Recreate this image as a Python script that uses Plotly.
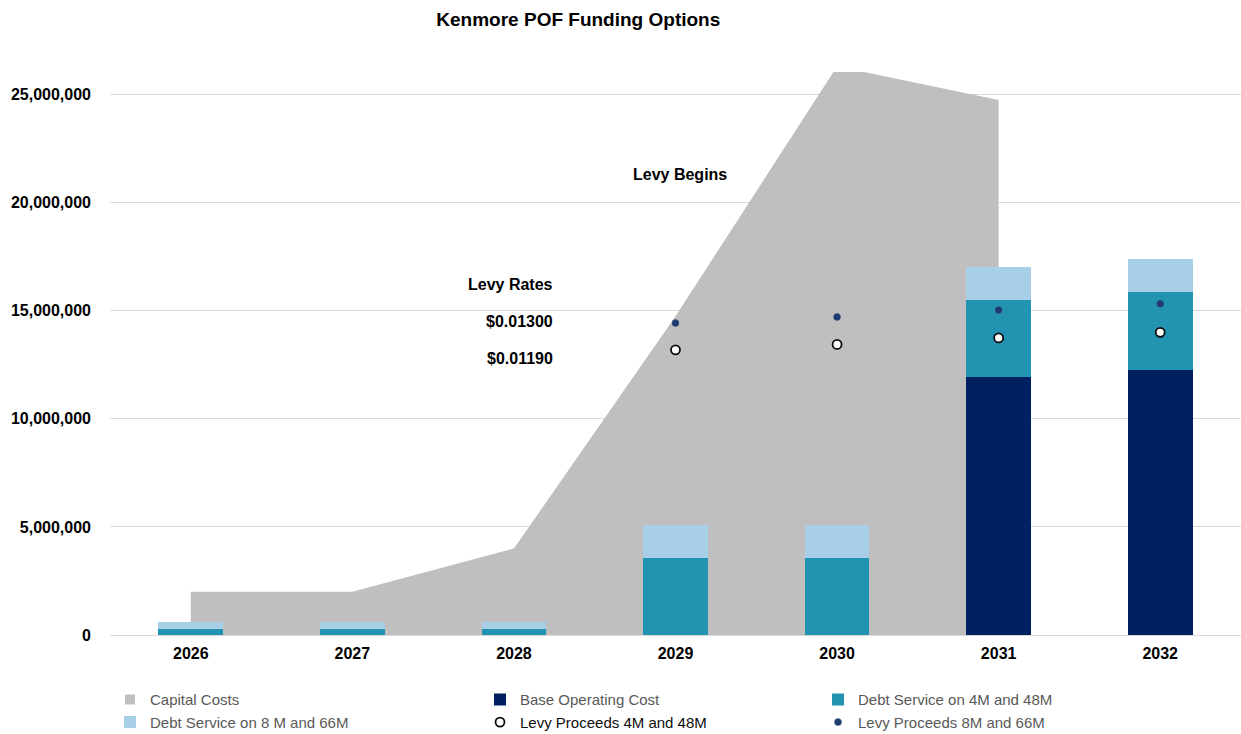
import plotly.graph_objects as go

# ---- data ----
years = ["2026", "2027", "2028", "2029", "2030", "2031", "2032"]
capital_years = ["2026", "2027", "2028", "2029", "2030", "2031"]
capital_costs = [2.0e6, 2.0e6, 4.0e6, 14.74e6, 26.3e6, 24.74e6]
base_operating = [None, None, None, None, None, 11.92e6, 12.25e6]
debt_4m_48m = [0.30e6, 0.30e6, 0.30e6, 3.58e6, 3.58e6, 3.56e6, 3.60e6]
debt_8m_66m = [0.30e6, 0.30e6, 0.30e6, 1.53e6, 1.53e6, 1.56e6, 1.54e6]
levy_years = ["2029", "2030", "2031", "2032"]
levy_4m_48m = [13.19e6, 13.44e6, 13.74e6, 14.00e6]
levy_8m_66m = [14.43e6, 14.71e6, 15.03e6, 15.32e6]
y_ticks = [0, 5e6, 10e6, 15e6, 20e6, 25e6]

# ---- style ----
C_CAP = "#BFBFBF"
C_BASE = "#002060"
C_DEBT4 = "#2293B0"
C_DEBT8 = "#A8CFE8"
C_LEVY8 = "#1F3A6E"
FONT = "Liberation Sans, Arial, sans-serif"
Y_MAX = 26.04e6
PW = 1131.0  # plot width in px

fig = go.Figure()

# capital cost area (base axes, drawn below bars)
fig.add_trace(go.Scatter(
    x=capital_years + [capital_years[-1]],
    y=capital_costs + [0],
    mode="none", fill="tozeroy", fillcolor=C_CAP,
    showlegend=False, hoverinfo="skip",
    xaxis="x", yaxis="y",
))
# legend entry for capital costs
fig.add_trace(go.Scatter(
    x=[None], y=[None], mode="markers", name="Capital Costs",
    marker=dict(symbol="square", size=10, color=C_CAP),
    legend="legend", xaxis="x", yaxis="y",
))

fig.add_trace(go.Bar(
    x=years, y=base_operating, name="Base Operating Cost",
    marker=dict(color=C_BASE, line=dict(width=0)), width=0.4,
    legend="legend2", xaxis="x2", yaxis="y2",
))
fig.add_trace(go.Bar(
    x=years, y=debt_4m_48m, name="Debt Service on 4M and 48M",
    marker=dict(color=C_DEBT4, line=dict(width=0)), width=0.4,
    legend="legend3", xaxis="x2", yaxis="y2",
))
fig.add_trace(go.Bar(
    x=years, y=debt_8m_66m, name="Debt Service on 8 M and 66M",
    marker=dict(color=C_DEBT8, line=dict(width=0)), width=0.4,
    legend="legend", xaxis="x2", yaxis="y2",
))
fig.add_trace(go.Scatter(
    x=levy_years, y=levy_4m_48m, mode="markers",
    name="<span style='color:#0D0D0D'>Levy Proceeds 4M and 48M</span>",
    marker=dict(symbol="circle", size=9, color="white",
                line=dict(width=1.8, color="#0D0D0D")),
    legend="legend2", xaxis="x2", yaxis="y2",
))
fig.add_trace(go.Scatter(
    x=levy_years, y=levy_8m_66m, mode="markers",
    name="Levy Proceeds 8M and 66M",
    marker=dict(symbol="circle", size=7, color=C_LEVY8,
                line=dict(width=0.5, color="#3A5A8F")),
    legend="legend3", xaxis="x2", yaxis="y2",
))

tick_font = dict(family=FONT, size=16, color="#000000", weight="bold")
ann_font = dict(family=FONT, size=16, color="#000000", weight="bold")
legend_common = dict(
    orientation="v", yanchor="top", y=-0.0859, xanchor="left",
    traceorder="normal",
    font=dict(family=FONT, size=15, color="#595959"),
    bgcolor="rgba(0,0,0,0)", borderwidth=0, itemwidth=30,
    tracegroupgap=0,
)

fig.update_layout(
    width=1241, height=734,
    margin=dict(l=110, r=0, t=72, b=99, autoexpand=False),
    paper_bgcolor="white", plot_bgcolor="white",
    barmode="stack",
    title=dict(
        text="Kenmore POF Funding Options",
        x=0.466, xanchor="center", xref="container",
        y=0.974, yanchor="middle", yref="container",
        font=dict(family=FONT, size=19, color="#000000", weight="bold"),
    ),
    xaxis=dict(
        type="category", categoryorder="array", categoryarray=years,
        range=[-0.5, 6.5], showgrid=False, zeroline=False,
        showline=True, linecolor="#D9D9D9", linewidth=1,
        ticks="", tickfont=tick_font, ticklabelstandoff=4,
        fixedrange=True, automargin=False,
    ),
    yaxis=dict(
        range=[0, Y_MAX], tickvals=y_ticks, tickformat=",d",
        showgrid=True, gridcolor="#D9D9D9", gridwidth=1,
        zeroline=False, showline=False, ticks="",
        tickfont=tick_font, ticklabelstandoff=18, fixedrange=True,
        automargin=False,
    ),
    xaxis2=dict(
        type="category", categoryorder="array", categoryarray=years,
        range=[-0.5, 6.5], overlaying="x", visible=False, fixedrange=True,
    ),
    yaxis2=dict(
        range=[0, Y_MAX], overlaying="y", visible=False, fixedrange=True,
    ),
    legend=dict(legend_common, x=(110 - 110) / PW),
    legend2=dict(legend_common, x=(480 - 110) / PW),
    legend3=dict(legend_common, x=(818 - 110) / PW),
    annotations=[
        dict(text="Levy Begins", x=3.03, y=21.28e6, xref="x", yref="y",
             showarrow=False, xanchor="center", yanchor="middle", font=ann_font),
        dict(text="Levy Rates", x=2.256, y=16.19e6, xref="x", yref="y",
             showarrow=False, xanchor="right", yanchor="middle", font=ann_font),
        dict(text="$0.01300", x=2.256, y=14.49e6, xref="x", yref="y",
             showarrow=False, xanchor="right", yanchor="middle", font=ann_font),
        dict(text="$0.01190", x=2.256, y=12.80e6, xref="x", yref="y",
             showarrow=False, xanchor="right", yanchor="middle", font=ann_font),
    ],
)

fig.write_html(
    "out.html",
    config={"displayModeBar": False},
    post_script="document.body.style.margin='0px';",
)
